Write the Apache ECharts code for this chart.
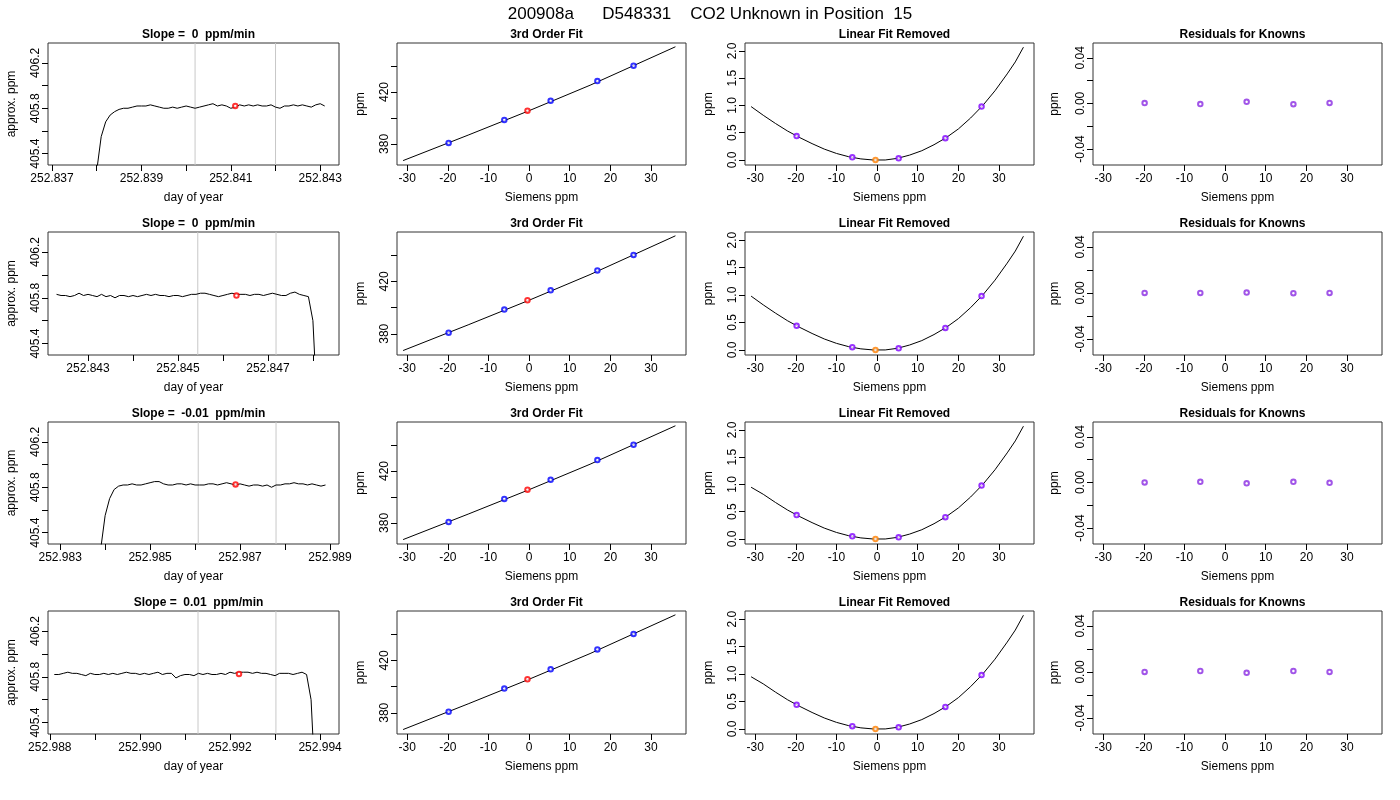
<!DOCTYPE html>
<html>
<head>
<meta charset="utf-8">
<script src="https://cdn.jsdelivr.net/npm/echarts@6/dist/echarts.min.js"></script>
<style>
html, body { margin: 0; padding: 0; background: #fff; }
#main { width: 1400px; height: 800px; }
</style>
</head>
<body>
<div id="main"></div>
<script>
// ----------------------------------------------------------------------------
var FONT = "'Liberation Sans', Arial, sans-serif";
var cols = [[48, 339], [397, 686], [745, 1034], [1093, 1382]];
var rows = [[43, 165], [232, 355], [422, 544], [611, 734]];

// raw trace per run: start time, step, values, gray lines, unknown point, axis range, ticks
var runs = [
    {
        slope: '0', start: 252.8380, step: 0.0001,
        xmin: 252.83691, xmax: 252.84342, ticks: [252.837, 252.838, 252.839, 252.840, 252.841, 252.842, 252.843],
        gray: [252.8402, 252.8420], red: [252.8411, 405.82],
        values: [405.25, 405.55, 405.68, 405.74, 405.77, 405.79, 405.80,
            405.80, 405.81, 405.82, 405.82, 405.82, 405.83, 405.82, 405.81, 405.80, 405.80,
            405.81, 405.80, 405.81, 405.82, 405.81, 405.80, 405.81, 405.82, 405.83, 405.84,
            405.82, 405.83, 405.82, 405.80, 405.81, 405.83, 405.82, 405.83, 405.82, 405.83,
            405.82, 405.82, 405.83, 405.81, 405.80, 405.82, 405.82, 405.83, 405.82, 405.83,
            405.82, 405.81, 405.83, 405.84, 405.82],
        fitStart: 0.98,
        resid: [0.0003, -0.0006, 0.0014, -0.0007, 0.0004]
    },
    {
        slope: '0', start: 252.8423, step: 0.0001,
        xmin: 252.84211, xmax: 252.84858, ticks: [252.843, 252.844, 252.845, 252.846, 252.847, 252.848],
        gray: [252.84544, 252.84718], red: [252.8463, 405.82],
        values: [405.83, 405.82, 405.82, 405.81, 405.82, 405.84, 405.82, 405.83, 405.82, 405.81,
            405.83, 405.81, 405.82, 405.80, 405.82, 405.82, 405.81, 405.82, 405.81, 405.82,
            405.83, 405.82, 405.83, 405.82, 405.82, 405.81, 405.82, 405.82, 405.81, 405.82,
            405.83, 405.83, 405.84, 405.84, 405.83, 405.82, 405.81, 405.82, 405.83, 405.84,
            405.83, 405.83, 405.83, 405.82, 405.83, 405.83, 405.82, 405.83, 405.84, 405.83,
            405.82, 405.82, 405.84, 405.85, 405.83, 405.82, 405.81, 405.6, 405.2],
        fitStart: 0.98,
        resid: [0.0, 0.0, 0.0003, -0.0002, 0.0]
    },
    {
        slope: '-0.01', start: 252.9839, step: 0.0001,
        xmin: 252.98273, xmax: 252.98920, ticks: [252.983, 252.984, 252.985, 252.986, 252.987, 252.988, 252.989],
        gray: [252.98607, 252.98780], red: [252.9869, 405.825],
        values: [405.25, 405.55, 405.70, 405.78, 405.81,
            405.82, 405.82, 405.83, 405.82, 405.82, 405.83, 405.84, 405.85, 405.85, 405.83,
            405.82, 405.82, 405.83, 405.83, 405.82, 405.83, 405.82, 405.82, 405.82, 405.83,
            405.83, 405.82, 405.83, 405.84, 405.83, 405.82, 405.83, 405.82, 405.81, 405.82,
            405.82, 405.81, 405.82, 405.80, 405.82, 405.82, 405.83, 405.83, 405.84, 405.83,
            405.83, 405.82, 405.83, 405.82, 405.81, 405.82],
        fitStart: 0.95,
        resid: [0.0, 0.0005, -0.0008, 0.0005, -0.0003]
    },
    {
        slope: '0.01', start: 252.9881, step: 0.0001,
        xmin: 252.98796, xmax: 252.99442, ticks: [252.988, 252.989, 252.990, 252.991, 252.992, 252.993, 252.994],
        gray: [252.99129, 252.99302], red: [252.9922, 405.825],
        values: [405.82, 405.82, 405.83, 405.84, 405.83, 405.83, 405.82, 405.81, 405.83, 405.82,
            405.82, 405.83, 405.82, 405.83, 405.82, 405.83, 405.84, 405.83, 405.83, 405.82,
            405.83, 405.82, 405.83, 405.84, 405.82, 405.83, 405.83, 405.79, 405.81, 405.82,
            405.82, 405.81, 405.83, 405.82, 405.83, 405.82, 405.82, 405.83, 405.82, 405.84,
            405.83, 405.84, 405.84, 405.84, 405.83, 405.84, 405.83, 405.83, 405.82, 405.81,
            405.83, 405.83, 405.83, 405.82, 405.83, 405.84, 405.82, 405.6, 405.2],
        fitStart: 0.95,
        resid: [0.0, 0.0008, -0.0008, 0.0008, 0.0]
    }
];

// calibration standards (same tanks every run)
var knownX = [-19.8, -6.1, 5.3, 16.8, 25.7];
var knownY = [380.8, 398.5, 413.2, 428.4, 440.2];
var unknown = [-0.4, 405.6];
var fitLine = [[-31, 367.2], [-15, 386.8], [0, 405.6], [15, 425.2], [36, 454.8]];
var knownNonLin = [0.44, 0.05, 0.03, 0.40, 0.98];
var curve = [[-28, 0.82], [-25, 0.67], [-22, 0.53], [-19, 0.41], [-16, 0.30], [-13, 0.20],
    [-10, 0.12], [-7, 0.06], [-4, 0.02], [-1, 0.0], [2, 0.0], [5, 0.03], [8, 0.09], [11, 0.17],
    [14, 0.28], [17, 0.41], [20, 0.57], [23, 0.77], [26, 1.0], [29, 1.27], [32, 1.58], [34, 1.8], [36, 2.07]];
var siemensTicks = [-30, -20, -10, 0, 10, 20, 30];

// ----------------------------------------------------------------------------
var grids = [], xAxes = [], yAxes = [], series = [], titles = [];
var labelStyle = { fontFamily: FONT, fontSize: 12, color: '#000' };

function addPanel(r, c, title, xa, ya) {
    var idx = grids.length;
    grids.push({
        left: cols[c][0], width: cols[c][1] - cols[c][0],
        top: rows[r][0], height: rows[r][1] - rows[r][0],
        show: true, borderColor: '#333', borderWidth: 1, backgroundColor: '#fff'
    });
    titles.push({
        text: title, left: (cols[c][0] + cols[c][1]) / 2, top: rows[r][0] - 19, textAlign: 'center',
        textStyle: { fontFamily: FONT, fontSize: 12, fontWeight: 'bold', color: '#000' }
    });
    xAxes.push({
        type: 'value', gridIndex: idx, min: xa.min, max: xa.max,
        name: xa.name, nameLocation: 'middle', nameGap: 27, nameTextStyle: labelStyle,
        axisLine: { show: false, onZero: false }, splitLine: { show: false },
        axisTick: { show: true, length: 6, customValues: xa.ticks, lineStyle: { color: '#000' } },
        axisLabel: Object.assign({ customValues: xa.labels, margin: 8, formatter: xa.fmt, showMinLabel: true, showMaxLabel: true }, labelStyle)
    });
    yAxes.push({
        type: 'value', gridIndex: idx, min: ya.min, max: ya.max,
        name: ya.name, nameLocation: 'middle', nameGap: ya.gap, nameRotate: 90, nameTextStyle: labelStyle,
        axisLine: { show: false, onZero: false }, splitLine: { show: false },
        axisTick: { show: true, length: 6, customValues: ya.ticks, lineStyle: { color: '#000' } },
        axisLabel: Object.assign({ customValues: ya.labels, rotate: 90, margin: 12, formatter: ya.fmt, verticalAlign: 'middle', align: 'center' }, labelStyle)
    });
    return idx;
}

function circles(idx, data, color) {
    series.push({
        type: 'scatter', xAxisIndex: idx, yAxisIndex: idx, data: data,
        symbol: 'emptyCircle', symbolSize: 4.5, itemStyle: { color: color, borderColor: color, borderWidth: 1 },
        silent: true, z: 5
    });
}

function line(idx, data, color, z) {
    series.push({
        type: 'line', xAxisIndex: idx, yAxisIndex: idx, data: data, showSymbol: false, z: z || 3,
        lineStyle: { color: color || '#000', width: 1 }, silent: true, clip: true
    });
}

function fixed(n) { return function (v) { return v.toFixed(n); }; }

for (var r = 0; r < runs.length; r++) {
    var run = runs[r];
    var trace = [];
    for (var i = 0; i < run.values.length; i++) {
        var t = run.start + i * run.step;
        if (i == run.values.length - 1 && run.values[i] < 405.3) t -= run.step / 2;
        trace.push([t, run.values[i]]);
    }
    var labeled = run.ticks.filter(function (v, k) { return k % 2 == 0; });
    var p = addPanel(r, 0, 'Slope =  ' + run.slope + '  ppm/min',
        { min: run.xmin, max: run.xmax, name: 'day of year', ticks: run.ticks, labels: labeled, fmt: fixed(3) },
        { min: 405.3, max: 406.375, name: 'approx. ppm', gap: 30,
          ticks: [405.4, 405.6, 405.8, 406.0, 406.2], labels: [405.4, 405.8, 406.2], fmt: fixed(1) });
    for (var g = 0; g < run.gray.length; g++) {
        line(p, [[run.gray[g], 405.3], [run.gray[g], 406.375]], '#c8c8c8', 2);
    }
    line(p, trace);
    circles(p, [run.red], '#ff0000');

    var sx = { min: -32.5, max: 38.6, name: 'Siemens ppm', ticks: siemensTicks, labels: siemensTicks, fmt: fixed(0) };

    p = addPanel(r, 1, '3rd Order Fit', sx,
        { min: 363.8, max: 457.7, name: 'ppm', gap: 30, ticks: [380, 400, 420, 440], labels: [380, 420], fmt: fixed(0) });
    line(p, fitLine);
    circles(p, knownX.map(function (x, k) { return [x, knownY[k]]; }), '#0000ff');
    circles(p, [unknown], '#ff0000');

    p = addPanel(r, 2, 'Linear Fit Removed', sx,
        { min: -0.092, max: 2.147, name: 'ppm', gap: 30, ticks: [0, 0.5, 1, 1.5, 2], labels: [0, 0.5, 1, 1.5, 2], fmt: fixed(1) });
    line(p, [[-31, run.fitStart]].concat(curve));
    circles(p, knownX.map(function (x, k) { return [x, knownNonLin[k]]; }), '#7f00ff');
    circles(p, [[unknown[0], 0.0]], '#ff7f00');

    p = addPanel(r, 3, 'Residuals for Knowns', sx,
        { min: -0.054, max: 0.053, name: 'ppm', gap: 32, ticks: [-0.04, -0.02, 0, 0.02, 0.04], labels: [-0.04, 0, 0.04], fmt: fixed(2) });
    circles(p, knownX.map(function (x, k) { return [x, run.resid[k]]; }), '#8a2be2');
}

titles.push({
    text: '200908a      D548331    CO2 Unknown in Position  15', left: 705, top: 1, textAlign: 'center',
    textStyle: { fontFamily: FONT, fontSize: 17, fontWeight: 'normal', color: '#000' }
});

var chart = echarts.init(document.getElementById('main'));
chart.setOption({
    backgroundColor: '#fff', animation: false,
    title: titles, grid: grids, xAxis: xAxes, yAxis: yAxes, series: series
});
</script>
</body>
</html>
